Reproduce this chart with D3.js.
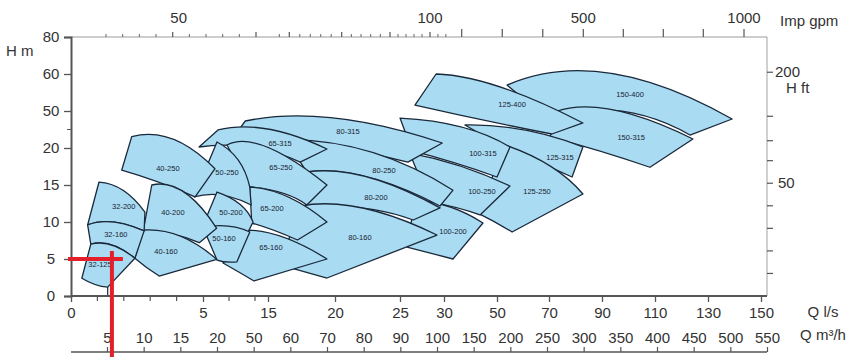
<!DOCTYPE html>
<html>
<head>
<meta charset="utf-8">
<script src="https://cdn.jsdelivr.net/npm/d3@7/dist/d3.min.js"></script>
<style>
  html, body { margin: 0; padding: 0; background: #fff; }
  svg { display: block; font-family: "Liberation Sans", Arial, sans-serif; }
</style>
</head>
<body>
<div id="chart"></div>
<script>
// pump models, back to front (later ones are drawn on top)
const pumpNames = ["150-400", "150-315", "125-400", "125-315", "125-250", "100-315", "100-250", "100-200",
  "80-315", "80-250", "80-200", "80-160", "65-315", "65-250", "65-200", "65-160",
  "50-250", "50-200", "50-160", "40-250", "40-200", "40-160", "32-200", "32-160", "32-125"];

// outline of each range as [Q l/s, H m]: top-left, top-mid, top-right, bottom-right, bottom-mid, bottom-left
const pumpOutlines = [
  [[53.85, 57.0], [93, 60.5], [139.1, 43.5], [123.2, 30.5], [96.8, 50], [68.5, 45.1]],
  [[72.3, 49.2], [94.2, 50.3], [124.3, 27.3], [108.1, 17.4], [89.2, 19.6], [70.4, 28.9]],
  [[29.1, 60], [51.2, 56.5], [82.8, 40.3], [71.1, 31.35], [44.7, 42.7], [26.7, 51.6]],
  [[37.9, 38.65], [60.8, 34.6], [82.8, 20.8], [78.7, 16.08], [66.5, 17.97], [55, 19.6]],
  [[53.1, 22.4], [70.4, 17.57], [82.8, 13.78], [55.8, 8.65], [49.2, 10], [42.8, 11.2]],
  [[25, 44.3], [36.8, 37.0], [55, 20.8], [50, 16.08], [34.15, 17.97], [26.4, 19.6]],
  [[26.1, 19.3], [36.0, 17.57], [55, 14.86], [43.6, 10.95], [35.3, 11.9], [28.4, 12.7]],
  [[26.7, 12.97], [32.3, 12.03], [44.7, 9.86], [33.4, 5.0], [28.4, 5.81], [25.8, 6.62]],
  [[11.5, 41.9], [20, 44.3], [29.8, 24.05], [25.9, 18.1], [19.6, 22.4], [10.7, 36.2]],
  [[16.3, 26.5], [22.7, 19.5], [33.4, 14.3], [29.55, 12.16], [22.5, 16.08], [17.9, 16.76]],
  [[17.9, 16.76], [22.5, 16.08], [29.55, 11.9], [26.5, 10.27], [22.1, 11.9], [17.8, 12.0]],
  [[17.4, 12.16], [22.1, 11.9], [29.2, 8.24], [19.4, 2.43], [17.8, 3.24], [15.9, 4.19]],
  [[7.31, 34.6], [15.0, 35.4], [19.4, 19.86], [17.4, 18.1], [12.2, 20.8], [4.85, 20.8]],
  [[8.69, 22.4], [14.85, 20.8], [19.4, 15.0], [17.9, 12.3], [16.1, 13.9], [12.2, 14.73]],
  [[12.2, 14.73], [16.5, 13.4], [19.4, 10.0], [17.2, 7.57], [15.4, 8.9], [12.5, 9.86]],
  [[12.1, 8.9], [16.3, 7.84], [19.4, 5.0], [12.85, 2.03], [10.5, 3.24], [8.08, 4.46]],
  [[7.15, 24.9], [10.4, 18.4], [12.2, 14.7], [12.4, 12.3], [7.9, 13.65], [4.66, 13.4]],
  [[7.15, 14.05], [10.7, 12.4], [12.7, 10.0], [11.8, 8.4], [8.4, 9.2], [4.96, 9.2]],
  [[5.0, 9.3], [8.85, 9.46], [12.2, 8.65], [10.2, 4.6], [8.5, 4.6], [7.15, 4.86]],
  [[2.3, 29.2], [3.86, 27.3], [6.85, 17.2], [4.7, 13.4], [3.3, 15.4], [1.92, 17.0]],
  [[3.06, 15.0], [4.28, 14.05], [7.1, 9.15], [4.86, 7.2], [3.83, 8.4], [2.74, 8.9]],
  [[2.74, 8.9], [4.13, 8.1], [7.1, 4.96], [3.34, 2.7], [2.88, 3.8], [2.42, 5.1]],
  [[1.06, 15.4], [1.97, 14.3], [2.8, 11.35], [2.77, 8.8], [1.59, 10.0], [0.63, 9.6]],
  [[0.63, 9.6], [1.59, 10.0], [2.77, 8.8], [2.42, 5.1], [1.54, 6.9], [0.75, 7.0]],
  [[0.75, 7.0], [1.54, 6.9], [2.42, 5.1], [1.39, 1.2], [0.91, 1.55], [0.41, 2.4]]
];

// where each model name sits [Q l/s, H m]
const labelPos = [
  [100.6, 54.6], [101, 28.9], [55.8, 51.9], [74.15, 18.8], [65.4, 14.19], [44.7, 19.32], [44.3, 14.19], [33.4, 8.78],
  [21.0, 33.8], [23.77, 17.0], [23.15, 13.38], [21.92, 7.97], [15.9, 24.05], [15.97, 17.43], [15.3, 11.9], [15.22, 6.62],
  [8.69, 16.76], [9.31, 11.35], [8.23, 7.84], [3.67, 17.3], [3.86, 11.35], [3.6, 6.08], [2.0, 12.16], [1.7, 8.38], [1.1, 4.32]
];

// axes
const flowTicks = [0, 5, 15, 20, 25, 30, 50, 70, 90, 110, 130, 150];    // Q l/s
const flowMinor = [1, 2, 3, 4, 9, 13];
const flowM3h = [5, 10, 15, 20, 50, 60, 70, 80, 90, 100, 150, 200, 250, 300, 350, 400, 450, 500, 550];
const headTicks = [0, 5, 10, 15, 20, 50, 60, 80];                       // H m
const headMinor = [35];
const gpmLabels = [50, 100, 500, 1000];
const gpmMajor = [50, 60, 70, 80, 90, 100, 200, 300, 400, 500, 600, 700, 800, 1000];
const gpmMinor = [30, 35, 40, 45, 52, 54, 56, 58, 67, 72, 74, 76, 78, 82, 84, 86, 88, 92, 94, 96, 98, 125, 150];
const feetTicks = [10, 20, 30, 40, 50, 60, 85, 150, 200];
const feetLabels = [50, 200];

// selected duty point
const dutyPoint = { q: 1.55, h: 5 };

const W = 853, H = 357;
const pL = 71, pR = 767, pT = 37, pB = 296;

const x = d3.scaleLinear()
  .domain(flowTicks)
  .range([71, 203, 268, 335, 400, 444, 497, 549, 602, 655, 708, 761]);
const y = d3.scaleLinear()
  .domain(headTicks)
  .range(headTicks.map((d, i) => pB - i * 37));
const xM3h = d3.scalePoint().domain(flowM3h).range([107, 767]);
const xGpm = d3.scaleLinear()
  .domain([30, 50, 60, 70, 80, 90, 100, 200, 500, 800, 1000])
  .range([106, 172.7, 256, 289.3, 341.7, 390, 430, 461.7, 583.3, 703.3, 744]);
const yFt = v => y(v / 3.281);

const svg = d3.select('#chart').append('svg')
  .attr('width', W)
  .attr('height', H);

// pump ranges
function outlinePath(pts) {
  const p = pts.map(d => [x(d[0]), y(d[1])]);
  const ctrl = (a, m, b) => [2 * m[0] - (a[0] + b[0]) / 2, 2 * m[1] - (a[1] + b[1]) / 2];
  const c1 = ctrl(p[0], p[1], p[2]);
  const c2 = ctrl(p[3], p[4], p[5]);
  const path = d3.path();
  path.moveTo(p[0][0], p[0][1]);
  path.quadraticCurveTo(c1[0], c1[1], p[2][0], p[2][1]);
  path.lineTo(p[3][0], p[3][1]);
  path.quadraticCurveTo(c2[0], c2[1], p[5][0], p[5][1]);
  path.closePath();
  return path.toString();
}

svg.append('g').selectAll('path')
  .data(pumpOutlines)
  .enter().append('path')
  .attr('d', outlinePath)
  .attr('fill', '#a9dbf3')
  .attr('stroke', '#1a293a')
  .attr('stroke-width', 1.3)
  .attr('stroke-linejoin', 'round');

// small stem under the smallest range down to the axis
const cusp = pumpOutlines[pumpNames.indexOf('32-125')][3];
svg.append('line')
  .attr('x1', x(cusp[0])).attr('x2', x(cusp[0]))
  .attr('y1', y(cusp[1])).attr('y2', y(0))
  .attr('stroke', '#1a293a').attr('stroke-width', 1.2);

svg.append('g').selectAll('text')
  .data(pumpNames)
  .enter().append('text')
  .attr('x', (d, i) => x(labelPos[i][0]))
  .attr('y', (d, i) => y(labelPos[i][1]))
  .attr('dy', '0.35em')
  .attr('text-anchor', 'middle')
  .attr('font-size', 7.5)
  .attr('fill', '#1a2330')
  .text(d => d);

// frame
svg.append('line').attr('x1', pL).attr('x2', pR).attr('y1', pT).attr('y2', pT)
  .attr('stroke', '#bdbdbd').attr('stroke-width', 1.5);
svg.append('line').attr('x1', pR).attr('x2', pR).attr('y1', pT).attr('y2', pB)
  .attr('stroke', '#a0a0a0').attr('stroke-width', 1);

// left axis H m
const yAxis = svg.append('g')
  .attr('transform', `translate(${pL},0)`)
  .call(d3.axisLeft(y).tickValues(headTicks).tickSize(7).tickFormat(d3.format('d')));
yAxis.select('.domain').attr('stroke', '#555').attr('stroke-width', 2);
yAxis.selectAll('.tick line').attr('stroke', '#555').attr('stroke-width', 1.3);
yAxis.selectAll('text').attr('text-anchor', 'middle').attr('x', -20)
  .attr('font-size', 15).attr('fill', '#333');
svg.append('g').selectAll('line').data(headMinor).enter().append('line')
  .attr('x1', pL - 4).attr('x2', pL).attr('y1', d => y(d)).attr('y2', d => y(d))
  .attr('stroke', '#555');

// bottom axis Q l/s
const xAxis = svg.append('g')
  .attr('transform', `translate(0,${pB})`)
  .call(d3.axisBottom(x).tickValues(flowTicks).tickSize(6).tickPadding(5).tickFormat(d3.format('d')));
xAxis.select('.domain').attr('d', `M${pL},0H${pR}`).attr('stroke', '#555').attr('stroke-width', 2);
xAxis.selectAll('.tick line').attr('stroke', '#555').attr('stroke-width', 1.3);
xAxis.selectAll('text').attr('font-size', 15).attr('fill', '#333');
xAxis.selectAll('.minor').data(flowMinor).enter().append('line')
  .attr('class', 'minor')
  .attr('x1', d => x(d)).attr('x2', d => x(d)).attr('y1', 0).attr('y2', 5)
  .attr('stroke', '#555').attr('stroke-width', 1.2);

// second bottom axis Q m3/h
const m3Axis = svg.append('g')
  .attr('transform', 'translate(0,352)')
  .call(d3.axisTop(xM3h).tickSize(5).tickPadding(4));
m3Axis.select('.domain').attr('d', `M${pL},0H${pR}`).attr('stroke', '#555').attr('stroke-width', 1.5);
m3Axis.selectAll('.tick line').attr('stroke', '#555').attr('stroke-width', 1.2);
m3Axis.selectAll('text').attr('font-size', 15).attr('fill', '#333');

// top axis Imp gpm
const gTop = svg.append('g');
gTop.selectAll('.minor').data(gpmMinor).enter().append('line')
  .attr('class', 'minor')
  .attr('x1', d => xGpm(d)).attr('x2', d => xGpm(d)).attr('y1', pT).attr('y2', pT - 3)
  .attr('stroke', '#666').attr('stroke-width', 1);
gTop.selectAll('.major').data(gpmMajor).enter().append('line')
  .attr('class', 'major')
  .attr('x1', d => xGpm(d)).attr('x2', d => xGpm(d)).attr('y1', pT).attr('y2', d => pT - (d > 100 ? 8 : 5))
  .attr('stroke', '#555').attr('stroke-width', 1.2);
gTop.selectAll('text').data(gpmLabels).enter().append('text')
  .attr('x', d => xGpm(d) + (d === 50 ? 6 : 0))
  .attr('y', 23)
  .attr('text-anchor', 'middle')
  .attr('font-size', 15)
  .attr('fill', '#333')
  .text(d => d);

// right axis H ft
const gRight = svg.append('g');
gRight.selectAll('line').data(feetTicks).enter().append('line')
  .attr('x1', pR).attr('x2', pR + 6).attr('y1', d => yFt(d)).attr('y2', d => yFt(d))
  .attr('stroke', '#555').attr('stroke-width', 1.2);
gRight.selectAll('text').data(feetLabels).enter().append('text')
  .attr('x', d => d === 200 ? pR + 8 : pR + 11)
  .attr('y', d => yFt(d))
  .attr('dy', '0.35em')
  .attr('font-size', 15)
  .attr('fill', '#333')
  .text(d => d);

// axis titles
const titles = [
  { t: 'H  m', x: 6, y: 56, a: 'start' },
  { t: 'Imp  gpm', x: 780, y: 26, a: 'start' },
  { t: 'H  ft', x: 786, y: 93, a: 'start' },
  { t: 'Q l/s', x: 823, y: 317, a: 'middle' },
  { t: 'Q m³/h', x: 823, y: 340, a: 'middle' }
];
svg.append('g').selectAll('text').data(titles).enter().append('text')
  .attr('x', d => d.x).attr('y', d => d.y)
  .attr('text-anchor', d => d.a)
  .attr('font-size', 15)
  .attr('fill', '#333')
  .text(d => d.t);

// red duty point cross
const red = svg.append('g').attr('stroke', '#e3202a').attr('stroke-width', 4);
red.append('line')
  .attr('x1', x(0) - 3).attr('x2', x(dutyPoint.q) + 11)
  .attr('y1', y(dutyPoint.h)).attr('y2', y(dutyPoint.h));
red.append('line')
  .attr('x1', x(dutyPoint.q)).attr('x2', x(dutyPoint.q))
  .attr('y1', y(dutyPoint.h) - 8).attr('y2', H);
</script>
</body>
</html>
